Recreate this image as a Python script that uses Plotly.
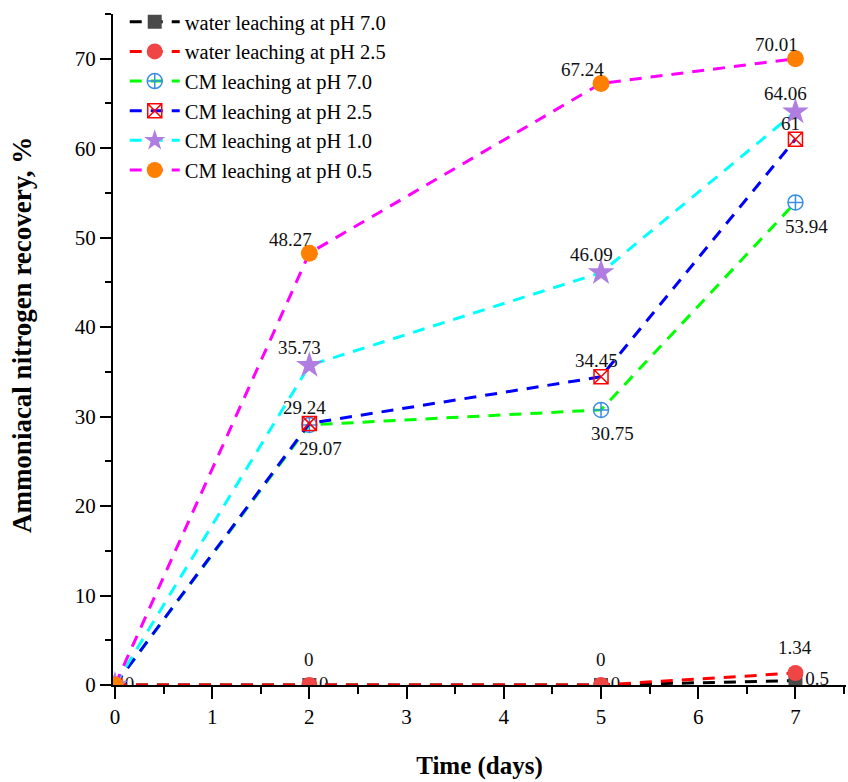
import plotly.graph_objects as go

# ---- data ----
days = [0, 2, 5, 7]
water_ph70 = [0, 0, 0, 0.5]
water_ph25 = [0, 0, 0, 1.34]
cm_ph70 = [0, 29.07, 30.75, 53.94]
cm_ph25 = [0, 29.24, 34.45, 61]
cm_ph10 = [0, 35.73, 46.09, 64.06]
cm_ph05 = [0, 48.27, 67.24, 70.01]
names = ["water leaching at pH 7.0", "water leaching at pH 2.5",
         "CM leaching at pH 7.0", "CM leaching at pH 2.5",
         "CM leaching at pH 1.0", "CM leaching at pH 0.5"]
x_ticks = [0, 1, 2, 3, 4, 5, 6, 7]
y_ticks = [0, 10, 20, 30, 40, 50, 60, 70]
x_title = "Time (days)"
y_title = "Ammoniacal nitrogen recovery, %"

FONT = "Liberation Serif"
DASH = "12px,9px"

def fmt(v):
    return f"{v:g}"

# style per series: line colour, marker symbol, marker colour, size, label offset (px)
styles = [
    dict(line="#000000", symbol="square", mcol="#4a4a4a", size=14, off=None),
    dict(line="#ff0000", symbol="circle", mcol="#f04545", size=16, off=(0, 26)),
    dict(line="#00ff00", symbol="circle-cross-open", mcol="#3a8ee6", size=15, off=(11, -24)),
    dict(line="#0000ff", symbol="square-x-open", mcol="#ff0000", size=14, off=(-5, 16)),
    dict(line="#00ffff", symbol="star", mcol="#b07ee0", size=20, off=(-10, 18)),
    dict(line="#ff00ff", symbol="circle", mcol="#ff8000", size=17, off=(-19, 14)),
]
series = [water_ph70, water_ph25, cm_ph70, cm_ph25, cm_ph10, cm_ph05]

fig = go.Figure()
annotations = []
for name, ys, st in zip(names, series, styles):
    open_sym = st["symbol"].endswith("open")
    marker = dict(symbol=st["symbol"], size=st["size"], color=st["mcol"],
                  line=dict(color=st["mcol"], width=1.5 if open_sym else 0))
    if st["off"] is None:
        fig.add_trace(go.Scatter(
            x=days, y=ys, name=name, mode="lines+markers+text",
            text=[fmt(v) for v in ys], textposition="middle right",
            textfont=dict(family=FONT, size=19, color="#111111"),
            line=dict(color=st["line"], width=3, dash=DASH),
            marker=marker, cliponaxis=True))
    else:
        fig.add_trace(go.Scatter(
            x=days, y=ys, name=name, mode="lines+markers",
            line=dict(color=st["line"], width=3, dash=DASH),
            marker=marker, cliponaxis=True))
        for xv, yv in zip(days[1:], ys[1:]):
            annotations.append(dict(
                x=xv, y=yv, xref="x", yref="y", text=fmt(yv), showarrow=False,
                xshift=st["off"][0], yshift=st["off"][1],
                font=dict(family=FONT, size=19, color="#111111")))

annotations.append(dict(
    x=-0.125, y=0.522, xref="paper", yref="paper", text="<b>" + y_title + "</b>",
    textangle=-90, showarrow=False, xanchor="center", yanchor="middle",
    font=dict(family=FONT, size=27, color="black")))

fig.update_layout(
    width=848, height=782,
    margin=dict(l=113, r=2, t=14, b=97),
    paper_bgcolor="white", plot_bgcolor="white",
    font=dict(family=FONT, color="black"),
    showlegend=True,
    legend=dict(x=0.016, y=1.018, xanchor="left", yanchor="top",
                bgcolor="rgba(0,0,0,0)", font=dict(family=FONT, size=20.5),
                itemwidth=50, tracegroupgap=0),
    annotations=annotations,
    xaxis=dict(range=[-0.02, 7.52], tickmode="array", tickvals=x_ticks,
               ticktext=[str(t) for t in x_ticks],
               showgrid=False, zeroline=False, showline=True, linecolor="black",
               linewidth=2, ticks="outside", ticklen=12, tickwidth=2, tickcolor="black",
               tickfont=dict(family=FONT, size=21),
               minor=dict(dtick=0.5, tick0=0, ticks="outside", ticklen=7, tickwidth=2, tickcolor="black"),
               title=dict(text="<b>" + x_title + "</b>", font=dict(family=FONT, size=25), standoff=28)),
    yaxis=dict(range=[0, 75], tickmode="array", tickvals=y_ticks,
               ticktext=[str(t) for t in y_ticks],
               showgrid=False, zeroline=False, showline=True, linecolor="black",
               linewidth=2, ticks="outside", ticklen=11, tickwidth=2, tickcolor="black",
               tickfont=dict(family=FONT, size=21),
               minor=dict(dtick=5, tick0=0, ticks="outside", ticklen=6, tickwidth=2, tickcolor="black")),
)

fig.write_html("out.html")
